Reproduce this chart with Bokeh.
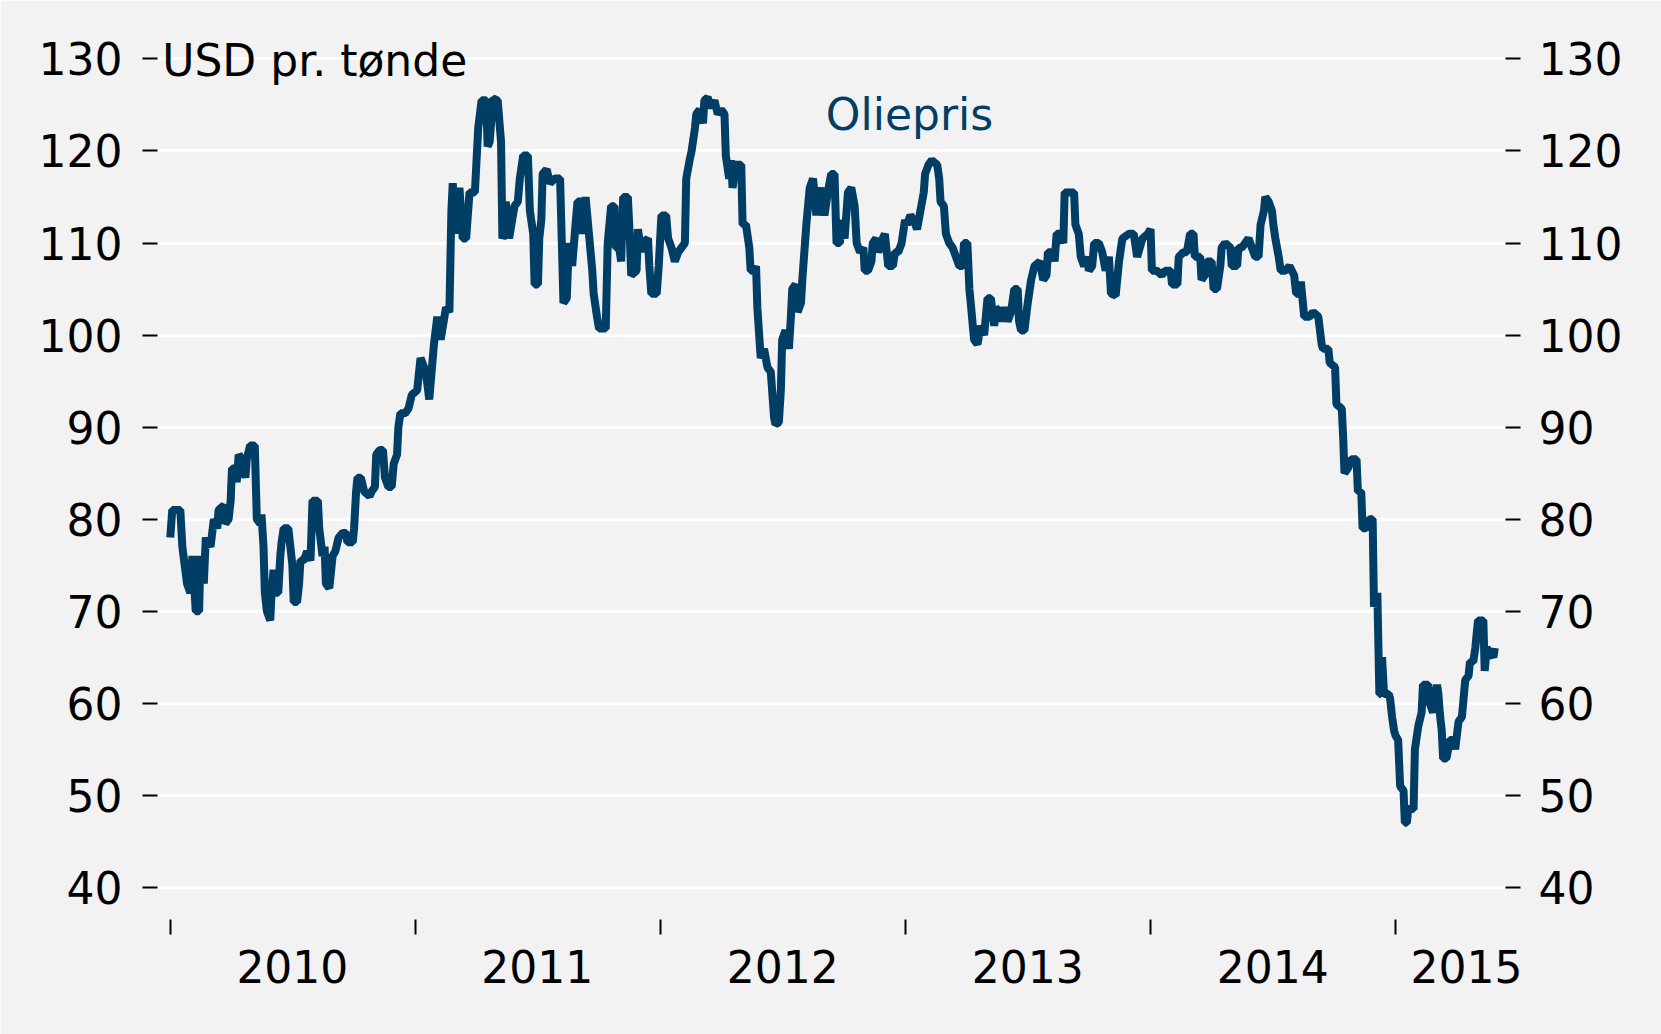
import pandas as pd
from bokeh.plotting import figure
from bokeh.models import (Range1d, LinearAxis, FixedTicker, DatetimeTickFormatter,
                          Label, ColumnDataSource)
from bokeh.embed import file_html
from bokeh.resources import INLINE

# ---------------- data ----------------
dates_2010 = ["2010-01-01","2010-01-04","2010-01-16","2010-01-19","2010-01-26","2010-01-31","2010-02-03","2010-02-08",
              "2010-02-13","2010-02-15","2010-02-20","2010-02-23","2010-03-02","2010-03-07","2010-03-12","2010-03-14",
              "2010-03-22","2010-03-24","2010-03-29","2010-04-01","2010-04-03","2010-04-08","2010-04-10","2010-04-13",
              "2010-04-18","2010-04-23","2010-04-25","2010-04-30","2010-05-07","2010-05-10","2010-05-15","2010-05-17",
              "2010-05-20","2010-05-22","2010-05-25","2010-05-30","2010-06-01","2010-06-04","2010-06-06","2010-06-11",
              "2010-06-14","2010-06-16","2010-06-19","2010-06-26","2010-06-29","2010-07-02","2010-07-04","2010-07-09",
              "2010-07-12","2010-07-14","2010-07-19","2010-07-24","2010-07-29","2010-08-01","2010-08-09","2010-08-11",
              "2010-08-16","2010-08-19","2010-08-21","2010-08-26","2010-08-31","2010-09-04","2010-09-09","2010-09-15",
              "2010-09-20","2010-09-22","2010-09-30","2010-10-02","2010-10-05","2010-10-07","2010-10-12","2010-10-17",
              "2010-10-25","2010-10-28","2010-11-02","2010-11-04","2010-11-09","2010-11-14","2010-11-17","2010-11-22",
              "2010-11-27","2010-11-30","2010-12-05","2010-12-07","2010-12-10","2010-12-17","2010-12-22","2010-12-27"]
price_2010 = [78,81,81,77,73,72,76,70,
              70,76,73,78,77,80,79,81,
              81.5,79.5,80,82,85.5,85.5,84,87,
              86.5,84.5,86.5,88,88,80,79.5,80.5,
              77,72,70,69,72,74.5,72,72,
              76,77.5,79,79,77,75,71,71,
              73,75.5,75.5,76.5,75.5,82,82,79,
              76,77,73,72.5,76,76.5,78,78.5,
              78.5,77.5,77.5,79,83,84.5,84.5,83,
              82.5,83,83.5,87,87.5,87.5,84.5,83.5,
              83.5,86,87,90,91.5,91.5,92,93.5]

dates_2011 = ["2011-01-04","2011-01-09","2011-01-17","2011-01-22","2011-01-29","2011-02-03","2011-02-08","2011-02-16",
              "2011-02-21","2011-02-24","2011-02-26","2011-03-03","2011-03-08","2011-03-13","2011-03-18","2011-03-23",
              "2011-03-31","2011-04-05","2011-04-10","2011-04-17","2011-04-19","2011-04-22","2011-04-27","2011-05-04",
              "2011-05-09","2011-05-11","2011-05-14","2011-05-16","2011-05-21","2011-05-29","2011-06-03","2011-06-06",
              "2011-06-11","2011-06-18","2011-06-21","2011-06-26","2011-06-28","2011-07-03","2011-07-05","2011-07-08",
              "2011-07-10","2011-07-16","2011-07-21","2011-07-28","2011-08-05","2011-08-10","2011-08-15","2011-08-18",
              "2011-08-23","2011-08-28","2011-08-31","2011-09-05","2011-09-07","2011-09-12","2011-09-17","2011-09-22",
              "2011-09-24","2011-09-29","2011-10-02","2011-10-12","2011-10-15","2011-10-20","2011-10-25","2011-10-27",
              "2011-11-01","2011-11-04","2011-11-07","2011-11-14","2011-11-17","2011-11-19","2011-11-27","2011-11-29",
              "2011-12-04","2011-12-06","2011-12-14","2011-12-16","2011-12-19","2011-12-27","2011-12-30"]
price_2011 = [94,97.5,96,93,99,102,99.5,103,
              102.5,113.5,116.5,111,116,110.5,110.5,115.5,
              115.5,122.5,125.5,125.5,120.5,121,125.7,125.5,
              121,110.5,111,114.5,110.5,114,114.5,117,
              119.5,119.5,113.5,111,105.5,105.5,110.5,112.5,
              117.5,118,116.5,117,117,103.5,104,110,
              107.5,112,114.5,114.5,111,115,111,107,
              104.5,102,100.7,100.7,110,114,114,109.5,
              109.5,108,115,115,110.5,106.5,107,111.5,
              109,110,110.5,107.5,104.5,104.5,107.5]

dates_2012 = ["2012-01-03","2012-01-10","2012-01-13","2012-01-18","2012-01-23","2012-01-28","2012-02-02","2012-02-07",
              "2012-02-09","2012-02-14","2012-02-17","2012-02-22","2012-02-24","2012-02-29","2012-03-05","2012-03-07",
              "2012-03-12","2012-03-17","2012-03-22","2012-03-27","2012-04-01","2012-04-06","2012-04-08","2012-04-13",
              "2012-04-16","2012-04-18","2012-04-23","2012-05-01","2012-05-03","2012-05-08","2012-05-13","2012-05-15",
              "2012-05-20","2012-05-23","2012-05-25","2012-05-30","2012-06-04","2012-06-09","2012-06-14","2012-06-19",
              "2012-06-21","2012-06-26","2012-06-29","2012-07-01","2012-07-06","2012-07-11","2012-07-14","2012-07-16",
              "2012-07-21","2012-07-24","2012-07-29","2012-07-31","2012-08-06","2012-08-11","2012-08-16","2012-08-21",
              "2012-08-23","2012-08-28","2012-09-02","2012-09-07","2012-09-12","2012-09-17","2012-09-20","2012-09-25",
              "2012-09-27","2012-10-02","2012-10-07","2012-10-12","2012-10-17","2012-10-20","2012-10-25","2012-10-30",
              "2012-11-01","2012-11-06","2012-11-11","2012-11-13","2012-11-18","2012-11-21","2012-11-28","2012-12-01",
              "2012-12-06","2012-12-13","2012-12-16","2012-12-21","2012-12-26","2012-12-28","2012-12-31"]
price_2012 = [113,113,110.5,109.5,108,109,109.5,110,
              117,119,120,122.5,124,124.5,123,125.5,
              125.8,124.7,125.5,124,124.5,124,119.5,117,
              119,116,118.5,118.5,112,112,109.5,107,
              107,107.5,103,97.5,98.5,96.5,96,91,
              90.3,90.5,94,99.5,100.5,98.5,102,105,
              105.5,102.5,103.5,106,112,116,117,113,
              114.5,116,113,115.5,117.5,117.5,110,110,
              112.5,110.5,115.5,116,114,110,109,109.5,
              107,107,108,110,110.5,109,110.5,111,
              107.5,107.5,109,109,110,111,112.5]

dates_2013 = ["2013-01-03","2013-01-08","2013-01-13","2013-01-18","2013-01-23","2013-01-28","2013-01-30","2013-02-04",
              "2013-02-09","2013-02-17","2013-02-20","2013-02-22","2013-02-27","2013-03-02","2013-03-07","2013-03-12",
              "2013-03-17","2013-03-22","2013-03-27","2013-03-29","2013-04-03","2013-04-06","2013-04-08","2013-04-13",
              "2013-04-18","2013-04-23","2013-04-28","2013-05-03","2013-05-08","2013-05-13","2013-05-15","2013-05-20",
              "2013-05-23","2013-05-28","2013-06-02","2013-06-07","2013-06-12","2013-06-17","2013-06-19","2013-06-22",
              "2013-06-27","2013-07-02","2013-07-07","2013-07-12","2013-07-20","2013-07-25","2013-07-30","2013-08-01",
              "2013-08-09","2013-08-11","2013-08-14","2013-08-19","2013-08-24","2013-08-26","2013-09-09","2013-09-11",
              "2013-09-16","2013-09-19","2013-09-24","2013-09-29","2013-10-01","2013-10-06","2013-10-09","2013-10-16",
              "2013-10-21","2013-10-26","2013-10-31","2013-11-03","2013-11-10","2013-11-15","2013-11-20","2013-11-30",
              "2013-12-07","2013-12-12","2013-12-20","2013-12-28"]
price_2013 = [112,113,112.5,111.5,113.5,115.5,117.5,118.5,
              119,118.5,117,114.5,114,111,110,109.5,
              108.5,107.5,107.5,110,110,105,103.5,99.5,
              99,101,100,104,104,101,103,102.5,
              101.5,103,101.5,102.5,105,105,101.5,100.5,
              100.5,103.5,106,107.5,108,106,106.5,109,
              109,108,111,111,110,115.5,115.5,112,
              111,108.5,107.5,108.5,107,107.5,110,110,
              109,107,108.5,104.5,104.3,108,110.5,111,
              111,108.5,110.5,111]

dates_2014 = ["2014-01-01","2014-01-03","2014-01-10","2014-01-18","2014-01-23","2014-01-31","2014-02-02","2014-02-10",
              "2014-02-12","2014-02-19","2014-02-24","2014-03-01","2014-03-06","2014-03-08","2014-03-16","2014-03-18",
              "2014-03-23","2014-03-26","2014-04-02","2014-04-05","2014-04-10","2014-04-15","2014-04-17","2014-04-22",
              "2014-04-30","2014-05-02","2014-05-10","2014-05-12","2014-05-17","2014-05-22","2014-05-27","2014-06-01",
              "2014-06-06","2014-06-11","2014-06-14","2014-06-19","2014-06-21","2014-06-26","2014-07-01","2014-07-03",
              "2014-07-06","2014-07-11","2014-07-14","2014-07-21","2014-07-27","2014-08-03","2014-08-06","2014-08-11",
              "2014-08-13","2014-08-18","2014-08-26","2014-08-31","2014-09-08","2014-09-13","2014-09-15","2014-09-23",
              "2014-09-25","2014-10-03","2014-10-05","2014-10-13","2014-10-15","2014-10-17","2014-10-22","2014-10-27",
              "2014-11-04","2014-11-06","2014-11-11","2014-11-13","2014-11-18","2014-11-23","2014-11-28","2014-11-30",
              "2014-12-05","2014-12-08","2014-12-10","2014-12-12","2014-12-15","2014-12-22","2014-12-24","2014-12-27",
              "2014-12-30"]
price_2014 = [111.5,107,107,106.5,107,107,105.5,105.5,
              108.5,109,109,111,111,108.5,108.5,106,
              106.5,108,108,105,105,107.5,109.5,110,
              109.5,107.5,107.5,109.5,109.5,110,110.5,109.5,
              108.5,108.5,112,113.5,115,114.5,113.5,112,
              110.5,108.5,107,107,107.5,106.5,104.5,104.5,
              105.8,102,102,102.5,102,99,98.5,98.5,
              97,96.5,92.5,92,89,85,85.5,86.5,
              86.5,83,83,79,79,80,80,70.5,
              72,61,61,65,61,61,60.5,58.5,
              57]

dates_2015 = ["2015-01-01","2015-01-05","2015-01-08","2015-01-13","2015-01-15","2015-01-18","2015-01-20","2015-01-28",
              "2015-01-30","2015-02-04","2015-02-09","2015-02-11","2015-02-19","2015-02-21","2015-02-26","2015-03-04",
              "2015-03-06","2015-03-08","2015-03-11","2015-03-13","2015-03-18","2015-03-23","2015-03-28","2015-03-31",
              "2015-04-05","2015-04-10","2015-04-15","2015-04-20","2015-04-22","2015-04-27","2015-04-30","2015-05-04",
              "2015-05-12","2015-05-14","2015-05-17","2015-05-22","2015-05-27","2015-05-29"]
price_2015 = [56.5,56,51,50.5,47,47,48.5,48.5,
              55,57.5,59,62,62,60,59,62,
              61,59,57,54,54,56,56,55,
              58,58.5,62.5,63,64.5,64.5,66,69,
              69,63.5,66,65.5,65,66]

y_ticks = [40, 50, 60, 70, 80, 90, 100, 110, 120, 130]
year_boundaries = ["2010-01-01", "2011-01-01", "2012-01-01", "2013-01-01", "2014-01-01", "2015-01-01"]
year_label_pos = ["2010-07-02", "2011-07-02", "2012-07-02", "2013-07-02", "2014-07-02", "2015-04-17"]
title_text = "USD pr. tønde"
series_name = "Oliepris"

# ---------------- build ----------------
dates = pd.to_datetime(dates_2010 + dates_2011 + dates_2012 + dates_2013 + dates_2014 + dates_2015)
prices = price_2010 + price_2011 + price_2012 + price_2013 + price_2014 + price_2015
src = ColumnDataSource(dict(date=dates, price=prices))

def ms(s):
    return pd.Timestamp(s).value / 1e6

BG = "#f2f2f2"
LINE = "#003e66"
FONT = "DejaVu Sans"
FS = "44px"

p = figure(width=1661, height=1034, x_axis_type="datetime", output_backend="svg",
           toolbar_location=None, title=None,
           x_range=Range1d(pd.Timestamp("2009-12-13"), pd.Timestamp("2015-06-14")),
           y_range=Range1d(36.5, 133.2),
           min_border_left=157, min_border_right=156, min_border_top=29, min_border_bottom=115)
p.background_fill_color = BG
p.border_fill_color = BG
p.outline_line_color = None

p.line("date", "price", source=src, line_color=LINE, line_width=8)

# grid
p.xgrid.visible = False
p.ygrid.ticker = FixedTicker(ticks=y_ticks)
p.ygrid.grid_line_color = "white"
p.ygrid.grid_line_width = 3

def style_y(ax, standoff):
    ax.ticker = FixedTicker(ticks=y_ticks)
    ax.axis_line_color = None
    ax.major_tick_in = 0
    ax.major_tick_out = 15
    ax.major_tick_line_color = "black"
    ax.major_tick_line_width = 2
    ax.minor_tick_line_color = None
    ax.major_label_standoff = standoff
    ax.major_label_text_font = FONT
    ax.major_label_text_font_size = FS
    ax.major_label_text_color = "black"

style_y(p.yaxis[0], 20)
right = LinearAxis()
style_y(right, 18)
p.add_layout(right, "right")

xa = p.xaxis[0]
xa.ticker = FixedTicker(ticks=[ms(s) for s in year_label_pos],
                        minor_ticks=[ms(s) for s in year_boundaries])
xa.formatter = DatetimeTickFormatter(years="%Y", months="%Y", days="%Y", hours="%Y",
                                     minutes="%Y", seconds="%Y", milliseconds="%Y",
                                     microseconds="%Y", hourmin="%Y", minsec="%Y")
xa.axis_line_color = None
xa.major_tick_line_color = None
xa.major_tick_in = 0
xa.major_tick_out = 0
xa.minor_tick_in = 0
xa.minor_tick_out = 15
xa.minor_tick_line_color = "black"
xa.minor_tick_line_width = 2
xa.major_label_standoff = 15
xa.major_label_text_font = FONT
xa.major_label_text_font_size = FS
xa.major_label_text_color = "black"

p.add_layout(Label(x=pd.Timestamp("2009-12-20"), y=129.85, text=title_text,
                   text_font=FONT, text_font_size=FS, text_color="black",
                   text_baseline="alphabetic", text_align="left"))
p.add_layout(Label(x=pd.Timestamp("2012-09-04"), y=124.0, text=series_name,
                   text_font=FONT, text_font_size=FS, text_color=LINE,
                   text_baseline="alphabetic", text_align="left"))

open("out.html", "w").write(file_html(p, INLINE))
